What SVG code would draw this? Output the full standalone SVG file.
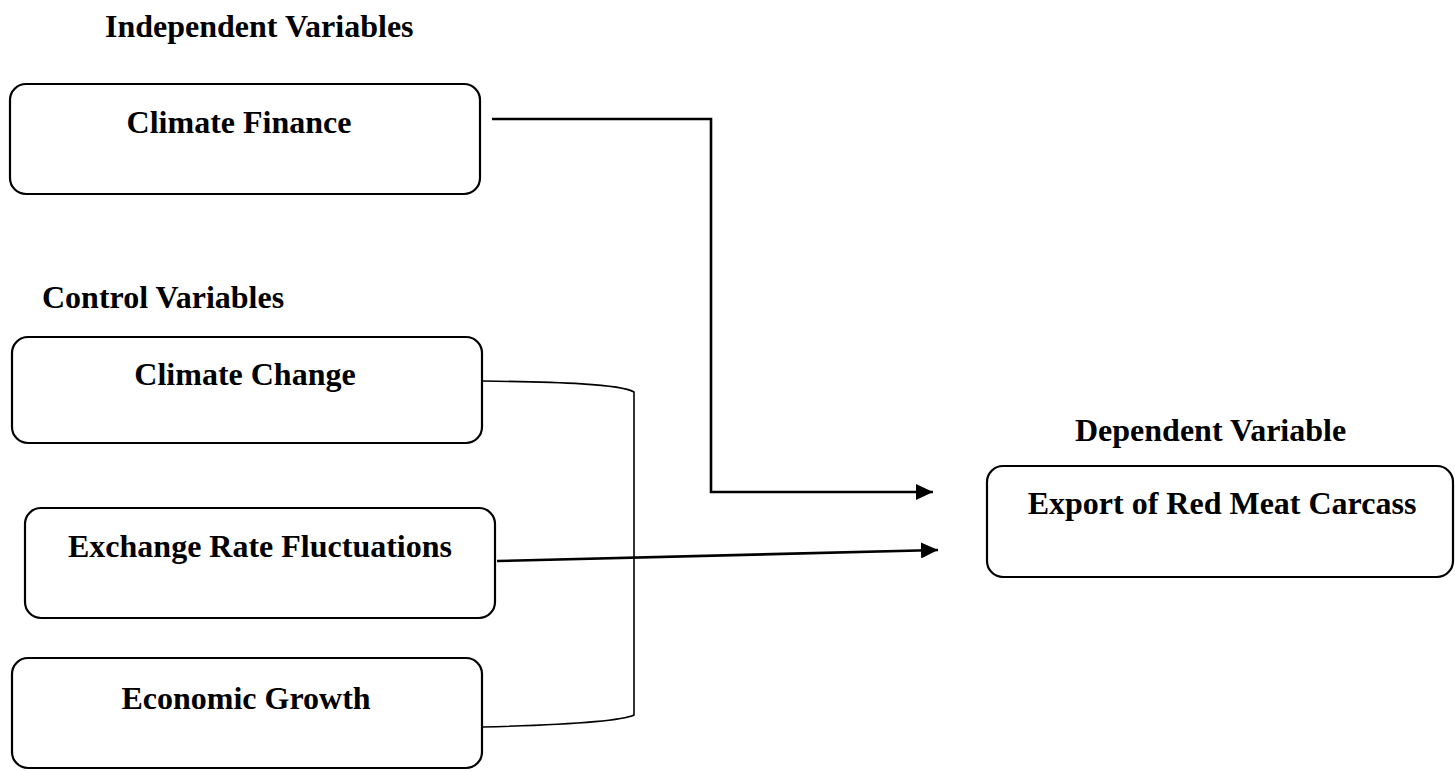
<svg xmlns="http://www.w3.org/2000/svg" width="1455" height="771" viewBox="0 0 1455 771">
<style>
.box{fill:#fff;stroke:#000;stroke-width:2.2}
.t{font-family:"Liberation Serif","Times New Roman",serif;font-weight:bold;font-size:32px;fill:#000}
.c{text-anchor:middle}
.ln{fill:none;stroke:#000;stroke-width:2.6}
.thin{fill:none;stroke:#000;stroke-width:1.6}
</style>
<defs>
<marker id="ah" markerUnits="userSpaceOnUse" markerWidth="17" markerHeight="16" refX="17" refY="8" orient="auto" viewBox="0 0 17 16">
<path d="M0,0 L17,8 L0,16 Z" fill="#000"/>
</marker>
</defs>
<rect width="1455" height="771" fill="#fff"/>
<g id="labels">
<text class="t" x="105" y="37">Independent Variables</text>
<text class="t" x="42" y="308">Control Variables</text>
<text class="t" x="1075" y="441">Dependent Variable</text>
</g>
<g id="climate-finance">
<rect class="box" x="10" y="84" width="470" height="110" rx="16"/>
<text class="t c" x="239" y="133">Climate Finance</text>
</g>
<g id="climate-change">
<rect class="box" x="12" y="337" width="470" height="106" rx="16"/>
<text class="t c" x="245" y="385">Climate Change</text>
</g>
<g id="exchange-rate">
<rect class="box" x="25" y="508" width="470" height="110" rx="16"/>
<text class="t c" x="260" y="557">Exchange Rate Fluctuations</text>
</g>
<g id="economic-growth">
<rect class="box" x="12" y="658" width="470" height="110" rx="16"/>
<text class="t c" x="246" y="709">Economic Growth</text>
</g>
<g id="export">
<rect class="box" x="987" y="466" width="466" height="111" rx="16"/>
<text class="t c" x="1222" y="514">Export of Red Meat Carcass</text>
</g>
<g id="connectors">
<path class="ln" d="M492,119 H711 V492 H933" marker-end="url(#ah)"/>
<path class="ln" d="M497,561 L938,550" marker-end="url(#ah)"/>
<path class="thin" d="M482,381 C560,382 620,384 634,392 V715 C620,722 560,725 482,727"/>
</g>
</svg>
